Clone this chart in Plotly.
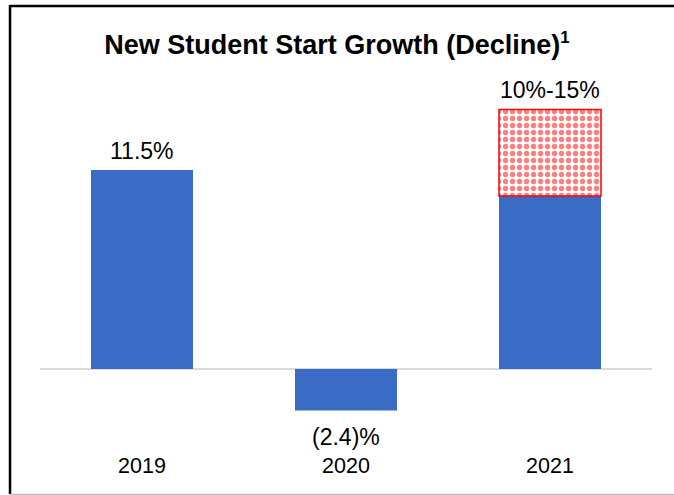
import plotly.graph_objects as go

years = ["2019", "2020", "2021"]
actual = [11.5, -2.4, 10.0]
range_extra = [None, None, 5.0]
labels = ["11.5%", "(2.4)%", "10%-15%"]
label_pos = [11.5, -2.4, 15.0]

BLUE = "#3B6CC5"
FONT = "Liberation Sans, Arial, sans-serif"

fig = go.Figure()
fig.add_trace(go.Bar(x=years, y=actual, marker=dict(color=BLUE, line=dict(width=0)),
                     width=0.5, showlegend=False, hoverinfo="skip"))
fig.add_trace(go.Bar(x=years, y=range_extra,
                     marker=dict(color="white", line=dict(color="#FF0000", width=1.5),
                                 pattern=dict(shape=".", fgcolor="#FF0000", bgcolor="white",
                                              size=7, solidity=0.45)),
                     width=0.5, showlegend=False, hoverinfo="skip"))

for i, (v, t) in enumerate(zip(label_pos, labels)):
    fig.add_annotation(x=i, y=v, xref="x", yref="y", text=t, showarrow=False,
                       yanchor="bottom" if v > 0 else "top",
                       yshift=4 if v > 0 else -12,
                       font=dict(family=FONT, size=23, color="#000000"))

# zero line
fig.add_shape(type="line", xref="paper", yref="y", x0=0, x1=1, y0=0, y1=0,
              line=dict(color="#D9D9D9", width=2), layer="below")
# frame
fig.add_shape(type="line", xref="paper", yref="paper", x0=-0.049, x1=1.1, y0=1.2176, y1=1.2176,
              line=dict(color="#000000", width=2.5))
fig.add_shape(type="line", xref="paper", yref="paper", x0=-0.049, x1=-0.049, y0=1.2206, y1=-0.2176,
              line=dict(color="#000000", width=2.5))
fig.add_shape(type="line", xref="paper", yref="paper", x0=-0.049, x1=1.1, y0=-0.2195, y1=-0.2195,
              line=dict(color="#BFBFBF", width=2))

fig.update_layout(
    width=674, height=495,
    barmode="relative",
    plot_bgcolor="white", paper_bgcolor="white",
    margin=dict(l=40, r=22, t=80, b=75),
    title=dict(text="<b>New Student Start Growth (Decline)<span style='font-size:24px'><sup>1</sup></span></b>",
               x=0.5, xanchor="center", y=0.911, yanchor="middle",
               font=dict(family=FONT, size=27, color="#000000")),
    xaxis=dict(showgrid=False, zeroline=False, showline=False, ticks="",
               tickfont=dict(family=FONT, size=21.5, color="#000000"),
               ticklabelstandoff=30, range=[-0.5, 2.5]),
    yaxis=dict(range=[-2.95, 16.7], visible=False, showgrid=False, zeroline=False),
)

fig.write_html("out.html", config={"displayModeBar": False},
               post_script="document.body.style.margin='0';")
